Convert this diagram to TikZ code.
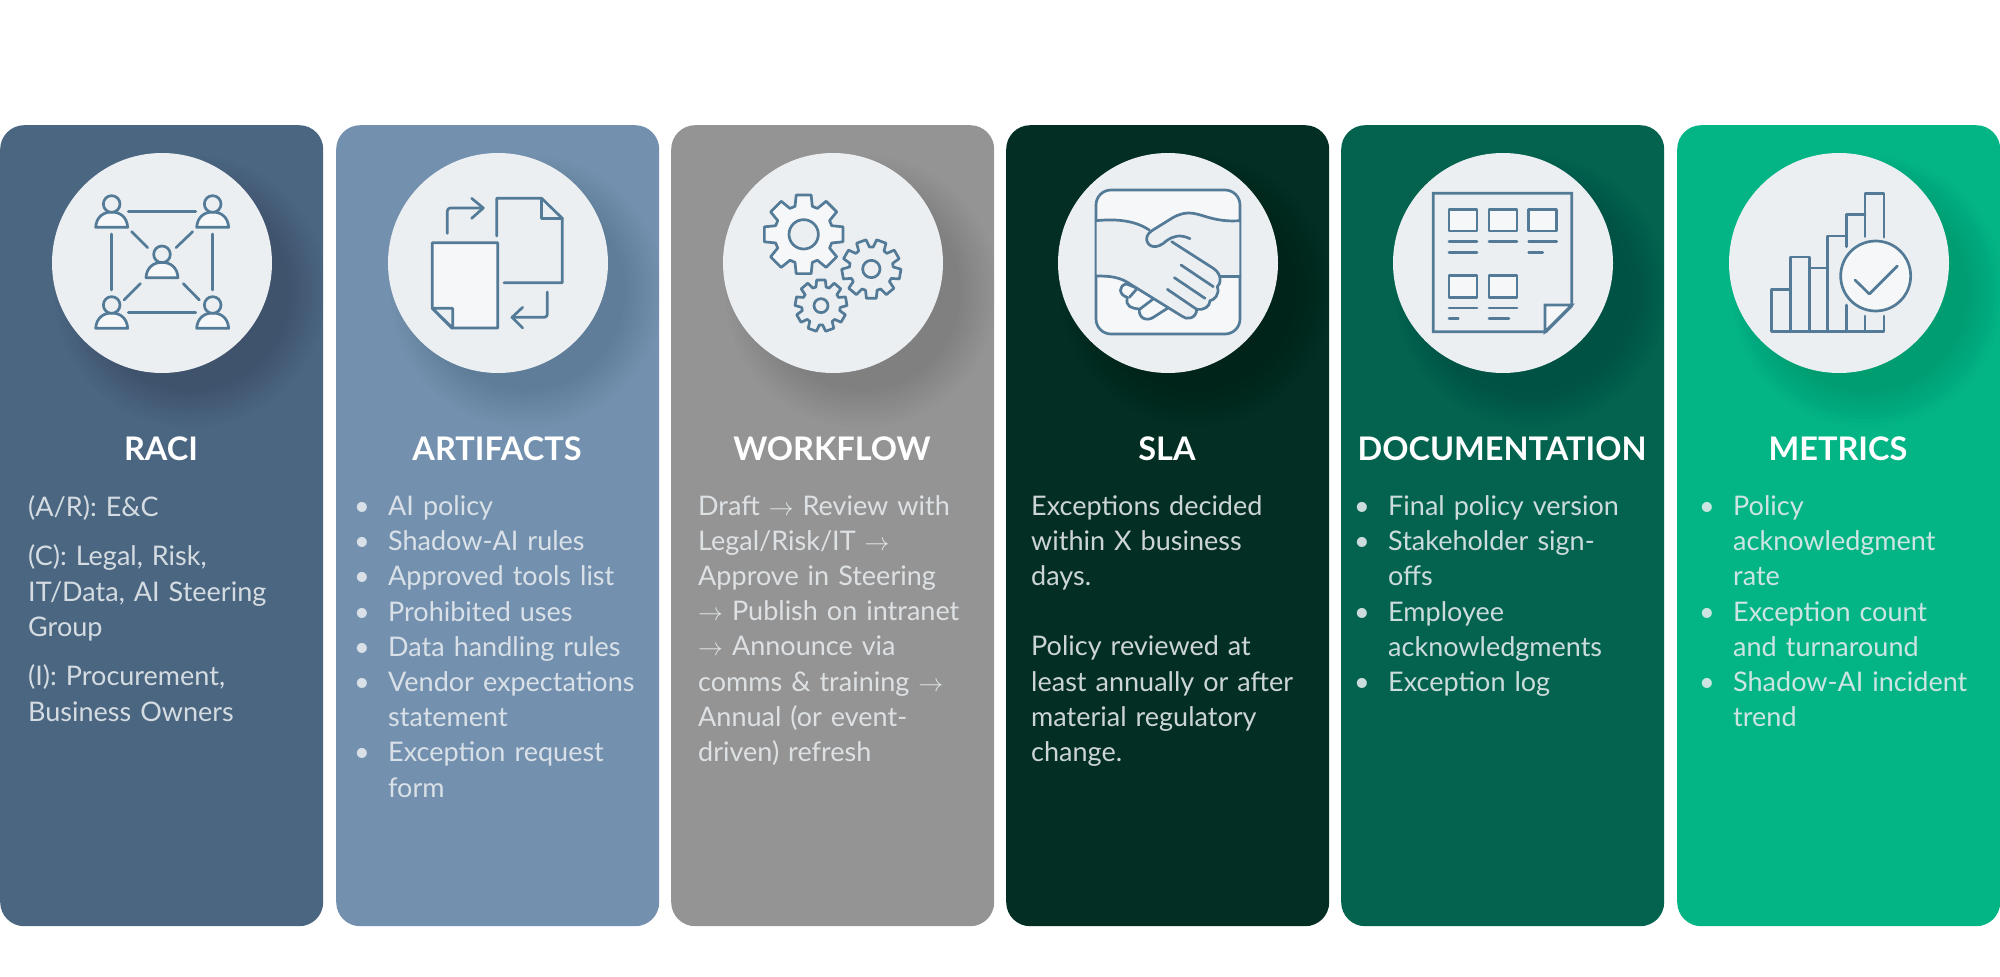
\documentclass[tikz,border=0pt]{standalone}
\usepackage{fontspec}
\setmainfont{Lato}

\definecolor{raci col}{HTML}{4A6681}
\definecolor{artifacts col}{HTML}{7391AF}
\definecolor{workflow col}{HTML}{949494}
\definecolor{sla col}{HTML}{032E23}
\definecolor{documentation col}{HTML}{03634E}
\definecolor{metrics col}{HTML}{03B585}
\definecolor{disc col}{HTML}{ECEFF2}
\definecolor{icon col}{HTML}{537A96}
\definecolor{pale col}{HTML}{F6F7F9}
\definecolor{body col}{HTML}{E8ECEF}

\newcommand{\bitem}[1]{\par\noindent\makebox[34pt][l]{\textbullet}#1}
\newcommand{\bline}[1]{\par\noindent\hspace*{34pt}#1}
\newcommand{\arw}{$\rightarrow$}
\newcommand{\gearicon}[7]{%
  \pgfmathsetmacro{\pp}{360/#5}
  \draw [icon, #7] ({#1+#4*cos(#6-.38*\pp)},{#2+#4*sin(#6-.38*\pp)})
    \foreach \k in {1,...,#5} {
      -- ({#1+#3*cos(#6+\pp*(\k-1)-.24*\pp)},{#2+#3*sin(#6+\pp*(\k-1)-.24*\pp)})
      -- ({#1+#3*cos(#6+\pp*(\k-1)+.24*\pp)},{#2+#3*sin(#6+\pp*(\k-1)+.24*\pp)})
      -- ({#1+#4*cos(#6+\pp*(\k-1)+.38*\pp)},{#2+#4*sin(#6+\pp*(\k-1)+.38*\pp)})
      -- ({#1+#4*cos(#6+\pp*\k-.38*\pp)},{#2+#4*sin(#6+\pp*\k-.38*\pp)})
    } -- cycle;
}

\tikzset{
  panel/.style={ rectangle, rounded corners = 24pt, inner sep = 0pt,
    minimum width = 323pt, minimum height = 801pt },
  disc/.style={ circle, fill = disc col, inner sep = 0pt, minimum size = 220pt },
  heading/.style={ text = white, inner sep = 0pt, font = \fontsize{32.5}{38}\bfseries },
  bodytext/.style={ anchor = north west, inner sep = 0pt, text = body col, text opacity = .88,
    align = left, font = \fontsize{27}{35.2}\selectfont },
  icon/.style={ draw = icon col, line width = 2.7pt, line cap = round, line join = round },
  zoomed/.style={ shift = {#1}, scale = 1/3 }
}

\begin{document}
\begin{tikzpicture}[x = 1pt, y = -1pt]
  \useasboundingbox (0,0) rectangle (2000,977);

  % cards, with the soft shadow under each disc
  \foreach \cardname/\cardx/\cardtitle in {raci/0/RACI, artifacts/336/ARTIFACTS,
      workflow/671/WORKFLOW, sla/1006/SLA, documentation/1341/DOCUMENTATION, metrics/1677/METRICS} {
    \node (\cardname) [panel, fill = \cardname\space col, anchor = north west] at (\cardx,125) {};
    \begin{scope}
      \clip (\cardname.north west) rectangle (\cardname.south east);
      \foreach \rad in {100,104,...,136}
        \fill [black, opacity = .012] (\cardx+190,291) circle (\rad);
    \end{scope}
    \node (\cardname disc) [disc] at (\cardx+162,263) {};
    \node (\cardname title) [heading] at (\cardx+161,448.5) {\cardtitle};
  }

  % RACI
  \node (raci text) [bodytext, text width = 290pt] at (28,495) {%
    (A/R): E\&C\\[14.5pt]
    (C): Legal, Risk,\\
    IT/Data, AI Steering\\
    Group\\[14.5pt]
    (I): Procurement,\\
    Business Owners};
  \begin{scope}[zoomed = {(0,110)}]
    \foreach \px/\py in {335/282, 638/282, 486/433, 335/585, 638/585} {
      \draw [icon, fill = pale col] (\px-48,\py+70) .. controls (\px-46,\py+38) and (\px-24,\py+24) .. (\px,\py+24)
        .. controls (\px+24,\py+24) and (\px+46,\py+38) .. (\px+48,\py+70) -- cycle;
      \draw [icon, fill = disc col] (\px,\py) circle (25);
    }
    \draw [icon] (385,304) -- (587,304);
    \draw [icon] (385,607) -- (587,607);
    \draw [icon] (334,372) -- (334,540);
    \draw [icon] (638,372) -- (638,540);
    \draw [icon] (395,365) -- (443,413);
    \draw [icon] (578,365) -- (528,413);
    \draw [icon] (421,521) -- (372,570);
    \draw [icon] (550,521) -- (598,570);
  \end{scope}

  % ARTIFACTS
  \node (artifacts text) [bodytext, text width = 290pt] at (354,480) {%
    \bitem{AI policy}
    \bitem{Shadow-AI rules}
    \bitem{Approved tools list}
    \bitem{Prohibited uses}
    \bitem{Data handling rules}
    \bitem{Vendor expectations}
    \bline{statement}
    \bitem{Exception request}
    \bline{form}};
  \begin{scope}[zoomed = {(340,110)}]
    \draw [icon] (470,378) -- (470,265) -- (605,265) -- (667,325) -- (667,518) -- (492,518);
    \draw [icon] (605,265) -- (605,325) -- (667,325);
    \draw [icon, fill = pale col] (277,398) -- (473,398) -- (473,654) -- (335,654) -- (277,595) -- cycle;
    \draw [icon, fill = disc col] (277,595) -- (338,595) -- (338,654) -- cycle;
    \draw [icon, rounded corners = 3pt] (322,370) -- (322,294) -- (428,294);
    \draw [icon] (395,265) -- (430,294) -- (395,325);
    \draw [icon, rounded corners = 3pt] (622,546) -- (622,622) -- (516,622);
    \draw [icon] (548,592) -- (516,622) -- (548,654);
  \end{scope}

  % WORKFLOW
  \node (workflow text) [bodytext, text width = 300pt] at (698,495) {%
    Draft \arw{} Review with\\
    Legal/Risk/IT \arw\\
    Approve in Steering\\
    \arw{} Publish on intranet\\
    \arw{} Announce via\\
    comms \& training \arw\\
    Annual (or event-\\
    driven) refresh};
  \begin{scope}[zoomed = {(680,110)}]
    \gearicon{371}{373}{120}{88}{8}{-90}{fill = pale col}
    \draw [icon, fill = disc col] (371,373) circle (44);
    \gearicon{574}{477}{89}{66}{9}{-70}{}
    \draw [icon] (574,477) circle (26);
    \gearicon{423}{587}{78}{58}{9}{-90}{}
    \draw [icon] (423,587) circle (21);
  \end{scope}

  % SLA
  \node (sla text) [bodytext, text width = 300pt] at (1031,495) {%
    Exceptions decided\\
    within X business\\
    days.\\[35.2pt]
    Policy reviewed at\\
    least annually or after\\
    material regulatory\\
    change.};
  \begin{scope}[zoomed = {(1010,110)}]
    \draw [icon, fill = pale col] (258,285) arc [start angle = 180, end angle = 270, radius = 45]
      -- (645,240) arc [start angle = 270, end angle = 360, radius = 45]
      -- (690,627) arc [start angle = 0, end angle = 90, radius = 45]
      -- (303,672) arc [start angle = 90, end angle = 180, radius = 45] -- cycle;
    % the three lower fingers
    \draw [icon, fill = pale col] (382,535) -- (350,522) .. controls (325,525) and (325,555) .. (352,562)
      .. controls (345,590) and (365,595) .. (388,597) .. controls (385,625) and (410,635) .. (430,622) -- (480,590);
    \draw [icon] (382,535) -- (358,562);
    \draw [icon] (432,565) -- (390,597);
    % sleeves and joined hands
    \fill [disc col] (260,332) .. controls (330,325) and (380,335) .. (418,360) -- (510,312)
      .. controls (560,300) and (590,335) .. (688,332) -- (688,500) -- (632,500)
      .. controls (635,515) and (630,525) .. (622,530) .. controls (630,555) and (612,570) .. (600,572)
      .. controls (600,590) and (580,602) .. (560,598) .. controls (560,625) and (530,632) .. (515,618)
      -- (365,525) .. controls (330,500) and (300,498) .. (260,498) -- cycle;
    \draw [icon] (258,332) .. controls (330,325) and (380,335) .. (418,360);
    \draw [icon] (258,498) .. controls (300,498) and (330,500) .. (365,525) -- (515,618)
      .. controls (530,632) and (560,625) .. (560,598) .. controls (580,602) and (600,590) .. (600,572)
      .. controls (612,570) and (630,555) .. (622,530) .. controls (630,525) and (640,495) .. (610,475) -- (485,395);
    \draw [icon] (632,500) -- (690,500);
    \draw [icon] (540,386) .. controls (510,372) and (490,378) .. (470,392)
      .. controls (440,420) and (415,412) .. (410,390) .. controls (408,375) and (420,365) .. (432,358)
      -- (490,322) .. controls (560,285) and (580,340) .. (690,332);
    \draw [icon] (513,465) -- (610,530);
    \draw [icon] (493,503) -- (585,565);
    \draw [icon] (472,538) -- (560,598);
  \end{scope}

  % DOCUMENTATION
  \node (documentation text) [bodytext, text width = 300pt] at (1354,480) {%
    \bitem{Final policy version}
    \bitem{Stakeholder sign-}
    \bline{offs}
    \bitem{Employee}
    \bline{acknowledgments}
    \bitem{Exception log}};
  \begin{scope}[zoomed = {(1340,110)}]
    \draw [icon, line cap = butt, line join = miter] (280,250) -- (695,250) -- (695,588) -- (618,665) -- (280,665) -- cycle;
    \draw [icon, fill = pale col, line join = miter] (695,585) -- (615,585) -- (615,665) -- cycle;
    \foreach \bx/\by in {327/298, 447/298, 566/298, 327/497, 447/497}
      \draw [icon, fill = pale col] (\bx,\by) rectangle (\bx+84,\by+65);
    \foreach \lx/\ly/\ll in {327/395/84, 327/427/84, 447/395/84, 566/395/84, 566/427/42,
        327/594/84, 327/625/28, 447/594/84, 447/625/60}
      \draw [icon] (\lx,\ly) -- (\lx+\ll,\ly);
  \end{scope}

  % METRICS
  \node (metrics text) [bodytext, text width = 300pt] at (1699,480) {%
    \bitem{Policy}
    \bline{acknowledgment}
    \bline{rate}
    \bitem{Exception count}
    \bline{and turnaround}
    \bitem{Shadow-AI incident}
    \bline{trend}};
  \begin{scope}[zoomed = {(1670,110)}]
    \draw [icon] (361,538) -- (305,538) -- (305,665) -- (642,665) -- (642,618);
    \draw [icon] (361,665) -- (361,441) -- (419,441) -- (419,665);
    \draw [icon] (419,474) -- (473,474);
    \draw [icon] (473,665) -- (473,378) -- (529,378) -- (529,410);
    \draw [icon] (529,585) -- (529,665);
    \draw [icon] (529,378) -- (529,314) -- (585,314);
    \draw [icon] (585,380) -- (585,250) -- (642,250) -- (642,382);
    \draw [icon] (585,618) -- (585,665);
    \draw [icon, fill = pale col] (617,498) circle (105);
    \draw [icon] (555,510) -- (598,552) -- (682,468);
  \end{scope}
\end{tikzpicture}
\end{document}
